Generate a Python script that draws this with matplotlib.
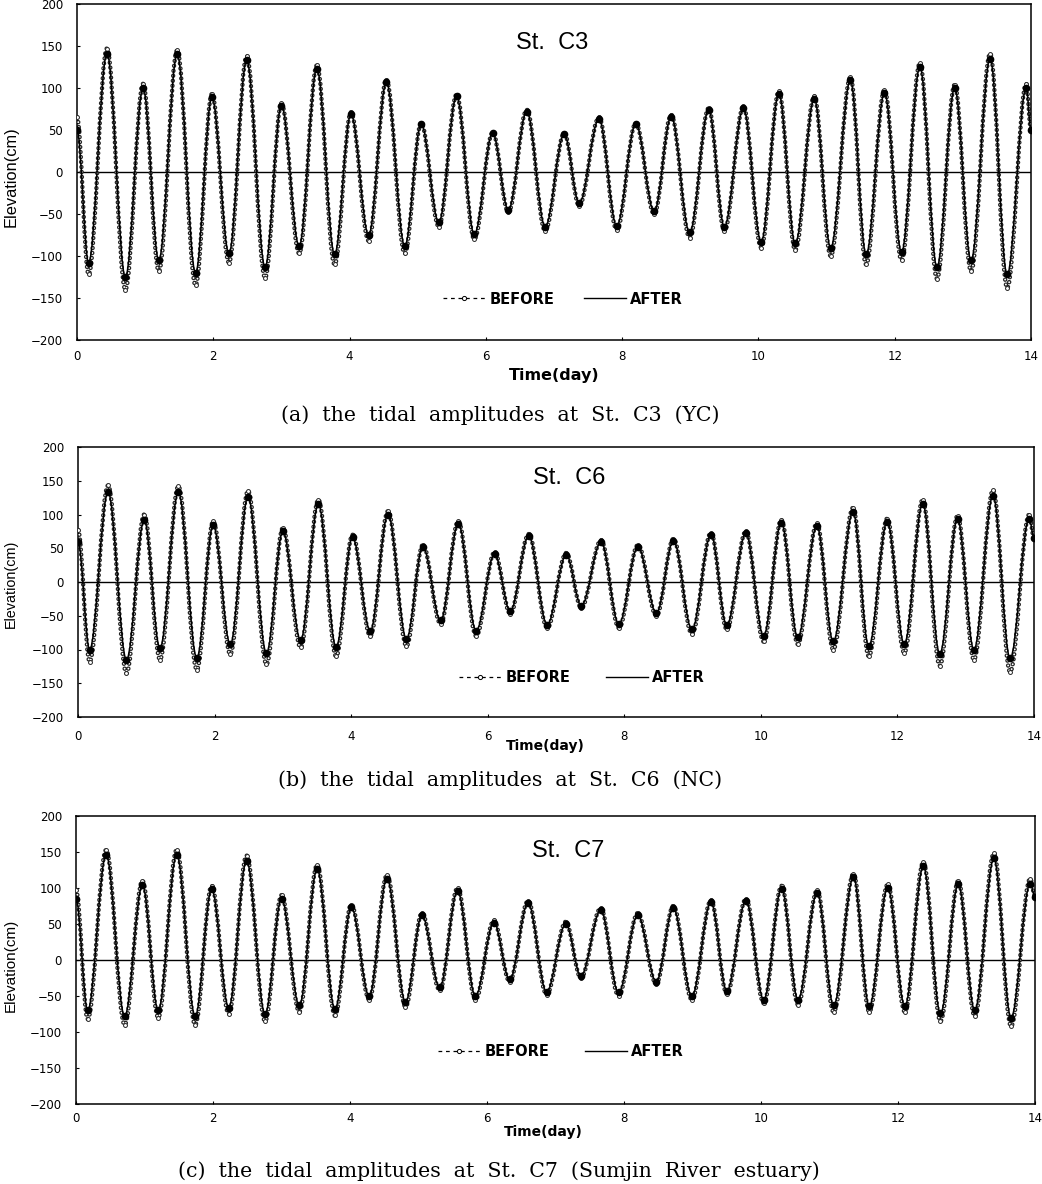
#!/usr/bin/env python3
import matplotlib
matplotlib.use("Agg")
import matplotlib.pyplot as plt
from matplotlib.lines import Line2D
from matplotlib.patches import PathPatch
from matplotlib.path import Path

W, H = 1042, 1184

# high and low water times (days)
TROUGH_T = [0.17, 0.71, 1.20, 1.74, 2.23, 2.76, 3.26, 3.78, 4.28, 4.81, 5.31, 5.83, 6.33, 6.87,
            7.37, 7.92, 8.47, 8.99, 9.50, 10.04, 10.54, 11.06, 11.58, 12.10, 12.62, 13.12, 13.65]
PEAK_T = [0.44, 0.97, 1.47, 1.98, 2.49, 3.00, 3.52, 4.02, 4.54, 5.05, 5.57, 6.10, 6.60, 7.15,
          7.66, 8.20, 8.72, 9.27, 9.78, 10.30, 10.82, 11.35, 11.85, 12.37, 12.88, 13.40, 13.93]

# St. C3
C3_START = (65, 50)
C3_END = (50, 50)
C3_BEFORE_PEAK = [147, 105, 145, 93, 138, 82, 127, 71, 110, 58, 92, 47, 74, 46,
                  65, 58, 68, 76, 78, 96, 90, 113, 98, 130, 104, 141, 105]
C3_BEFORE_TROUGH = [-122, -140, -118, -135, -108, -126, -97, -110, -82, -97, -65, -80, -48, -70,
                    -40, -69, -50, -78, -70, -90, -93, -100, -110, -105, -127, -118, -138]
C3_AFTER_PEAK = [141, 100, 140, 89, 133, 79, 123, 69, 107, 57, 90, 46, 72, 45,
                 63, 57, 66, 74, 76, 93, 87, 109, 94, 125, 100, 135, 100]
C3_AFTER_TROUGH = [-108, -125, -105, -120, -97, -113, -88, -98, -75, -88, -60, -74, -45, -65,
                   -37, -64, -47, -72, -65, -83, -85, -90, -98, -95, -113, -105, -122]

# St. C6
C6_START = (77, 60)
C6_END = (65, 65)
C6_BEFORE_PEAK = [143, 100, 142, 90, 135, 80, 122, 70, 105, 55, 90, 44, 71, 43,
                  62, 55, 64, 73, 75, 92, 87, 110, 94, 122, 98, 136, 100]
C6_BEFORE_TROUGH = [-118, -135, -115, -130, -107, -122, -97, -110, -80, -95, -62, -80, -47, -68,
                    -38, -68, -50, -77, -70, -88, -92, -100, -110, -105, -124, -115, -133]
C6_AFTER_PEAK = [133, 92, 133, 84, 126, 75, 115, 66, 100, 52, 86, 41, 68, 40,
                 59, 52, 61, 70, 72, 88, 83, 104, 89, 116, 93, 128, 94]
C6_AFTER_TROUGH = [-100, -115, -98, -112, -92, -105, -86, -96, -72, -84, -57, -72, -43, -63,
                   -35, -62, -46, -70, -64, -80, -82, -88, -95, -92, -106, -100, -113]

# St. C7
C7_START = (97, 85)
C7_END = (88, 88)
C7_BEFORE_PEAK = [153, 110, 153, 103, 145, 90, 132, 77, 118, 65, 100, 55, 82, 53,
                  72, 65, 75, 83, 85, 103, 97, 120, 105, 136, 110, 148, 113]
C7_BEFORE_TROUGH = [-82, -90, -80, -90, -75, -85, -72, -77, -55, -65, -42, -55, -30, -48,
                    -25, -50, -33, -55, -47, -60, -62, -72, -72, -72, -85, -78, -92]
C7_AFTER_PEAK = [146, 104, 146, 98, 138, 85, 126, 73, 113, 62, 96, 52, 79, 50,
                 69, 62, 72, 80, 82, 99, 93, 115, 100, 130, 105, 141, 106]
C7_AFTER_TROUGH = [-70, -78, -70, -78, -66, -75, -63, -68, -50, -58, -38, -50, -27, -44,
                   -22, -45, -30, -50, -43, -55, -55, -63, -64, -64, -74, -70, -80]

X_TICKS = [0, 2, 4, 6, 8, 10, 12, 14]
Y_TICKS = [-200, -150, -100, -50, 0, 50, 100, 150, 200]

PANELS = [
    # title, box (l, t, r, b in px), series, legend left/y px, label sizes and places
    dict(title="St.  C3", box=(77, 4, 1031, 340), title_xy=(552, 43), leg_xy=(443, 299),
         start=C3_START, end=C3_END, xpad=7.5, leg_gap=2.0,
         before=(C3_BEFORE_PEAK, C3_BEFORE_TROUGH), after=(C3_AFTER_PEAK, C3_AFTER_TROUGH),
         xlabel_xy=(554, 375), xlabel_fs=11.5, ylabel_xy=(11, 177), ylabel_fs=11.8,
         caption="(a)  the  tidal  amplitudes  at  St.  C3  (YC)", caption_xy=(500, 415)),
    dict(title="St.  C6", box=(78, 447, 1034, 717), title_xy=(569, 478), leg_xy=(459, 678),
         start=C6_START, end=C6_END, xpad=9, leg_gap=2.4,
         before=(C6_BEFORE_PEAK, C6_BEFORE_TROUGH), after=(C6_AFTER_PEAK, C6_AFTER_TROUGH),
         xlabel_xy=(545, 746), xlabel_fs=10, ylabel_xy=(11, 584), ylabel_fs=10.4,
         caption="(b)  the  tidal  amplitudes  at  St.  C6  (NC)", caption_xy=(500, 780)),
    dict(title="St.  C7", box=(76, 816, 1035, 1104), title_xy=(568, 851), leg_xy=(438, 1052),
         start=C7_START, end=C7_END, xpad=6, leg_gap=2.4,
         before=(C7_BEFORE_PEAK, C7_BEFORE_TROUGH), after=(C7_AFTER_PEAK, C7_AFTER_TROUGH),
         xlabel_xy=(543, 1132), xlabel_fs=10, ylabel_xy=(11, 965), ylabel_fs=11,
         caption="(c)  the  tidal  amplitudes  at  St.  C7  (Sumjin  River  estuary)",
         caption_xy=(499, 1171)),
]


def tide_points(start, end, peaks, troughs):
    ts = [0.0]
    vs = [start]
    for tt, vt, tp, vp in zip(TROUGH_T, troughs, PEAK_T, peaks):
        ts += [tt, tp]
        vs += [vt, vp]
    ts.append(14.0)
    vs.append(end)
    return ts, vs


def tide_path(ts, vs):
    """Smooth curve through the read turning points, flat at each one."""
    verts = [(ts[0], vs[0])]
    codes = [Path.MOVETO]
    for i in range(len(ts) - 1):
        d = 0.3642 * (ts[i + 1] - ts[i])
        verts += [(ts[i] + d, vs[i]), (ts[i + 1] - d, vs[i + 1]), (ts[i + 1], vs[i + 1])]
        codes += [Path.CURVE4] * 3
    return Path(verts, codes)


def px_x(x):
    return x / W


def px_y(y):
    return 1 - y / H


fig = plt.figure(figsize=(W / 100, H / 100), dpi=100, facecolor="white")

for p in PANELS:
    l, t, r, b = p["box"]
    ax = fig.add_axes([px_x(l), px_y(b), (r - l) / W, (b - t) / H])
    ax.set_xlim(0, 14)
    ax.set_ylim(-200, 200)
    ax.set_xticks(X_TICKS)
    ax.set_yticks(Y_TICKS)
    ax.tick_params(direction="in", length=2.5, width=0.8, labelsize=8.5)
    ax.tick_params(axis="x", pad=p["xpad"])
    ax.tick_params(axis="y", pad=10)
    for s in ax.spines.values():
        s.set_linewidth(1.1)
    ax.axhline(0, color="k", lw=1.0, zorder=1)

    bt, bv = tide_points(p["start"][0], p["end"][0], *p["before"])
    at, av = tide_points(p["start"][1], p["end"][1], *p["after"])

    # BEFORE: string of small open circles along the curve, both dash cycles 3.6 pt long
    ax.add_patch(PathPatch(tide_path(bt, bv), fc="none", ec="#222222", lw=3.2,
                           ls=(0, (0.01, 1.115)), capstyle="round", zorder=2))
    ax.add_patch(PathPatch(tide_path(bt, bv), fc="none", ec="white", lw=1.4,
                           ls=(0, (0.01, 2.5614)), capstyle="round", zorder=3))
    ax.plot(bt, bv, ls="none", marker="o", ms=2.8, mfc="white", mec="#222222", mew=0.7, zorder=3)
    # AFTER: solid line with dark blobs where the two overlap at the turns
    ax.add_patch(PathPatch(tide_path(at, av), fc="none", ec="k", lw=1.1, zorder=4))
    ax.plot(at, av, ls="none", marker="o", ms=4.5, color="k", zorder=4)

    handles = [
        Line2D([], [], color="k", lw=0.9, ls=(0, (3, 3)), marker="o", ms=3, mfc="white",
               mew=0.7, label="BEFORE"),
        Line2D([], [], color="k", lw=1.0, label="AFTER"),
    ]
    ax.legend(handles=handles, loc="center left", ncol=2, frameon=False,
              bbox_to_anchor=((p["leg_xy"][0] - l) / (r - l), (b - p["leg_xy"][1]) / (b - t)),
              borderpad=0, borderaxespad=0, handlelength=2.9, handletextpad=0.3,
              columnspacing=p["leg_gap"], prop=dict(family="DejaVu Sans", weight="bold", size=10.5))

    fig.text(px_x(p["title_xy"][0]), px_y(p["title_xy"][1]), p["title"], ha="center", va="center",
             family="Liberation Sans", fontsize=17)
    fig.text(px_x(p["xlabel_xy"][0]), px_y(p["xlabel_xy"][1]), "Time(day)", ha="center", va="center",
             family="DejaVu Sans", weight="bold", fontsize=p["xlabel_fs"])
    fig.text(px_x(p["ylabel_xy"][0]), px_y(p["ylabel_xy"][1]), "Elevation(cm)", ha="center",
             va="center", rotation=90, family="Liberation Sans", fontsize=p["ylabel_fs"])
    fig.text(px_x(p["caption_xy"][0]), px_y(p["caption_xy"][1]), p["caption"], ha="center",
             va="center", family="DejaVu Serif", fontsize=14.8)

fig.savefig("out.png", dpi=100)
